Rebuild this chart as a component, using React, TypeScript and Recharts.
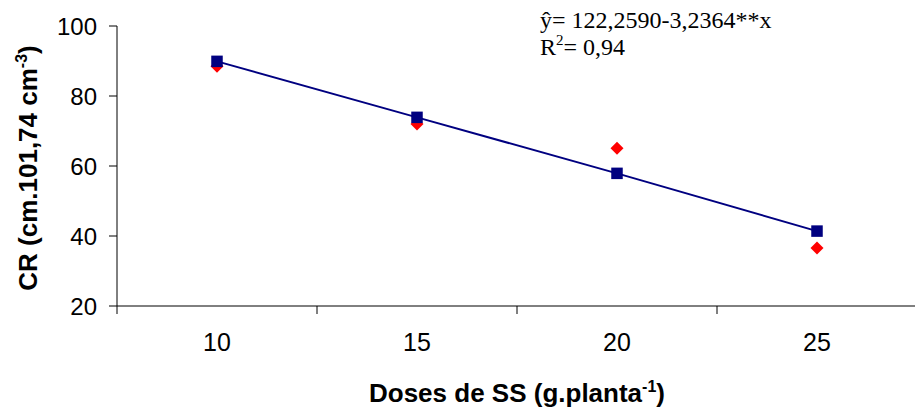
import React from 'react';
import { ComposedChart, Line, XAxis, YAxis, Label } from 'recharts';

const doses = [10, 15, 20, 25];
const observed = [88.5, 72, 65.1, 36.6];
const fitted = [89.9, 73.9, 57.9, 41.4];
const yTicks = [20, 40, 60, 80, 100];
const equationLine1 = 'ŷ= 122,2590-3,2364**x';
const equationR2 = '= 0,94';

const data = doses.map((d, i) => ({ dose: d, observed: observed[i], fitted: fitted[i] }));
const step = doses[1] - doses[0];
const boundaries = [...doses.map((d) => d - step / 2), doses[doses.length - 1] + step / 2];
const xTicks = [...boundaries, ...doses].sort((a, b) => a - b);

const SANS = '"Liberation Sans", Arial, sans-serif';
const SERIF = '"Liberation Serif", "Times New Roman", serif';
const NAVY = '#000080';

const XTick = (props: any) => {
  const { x, y, payload } = props;
  const v = payload.value;
  if (boundaries.includes(v)) {
    return <line x1={x} x2={x} y1={y} y2={y + 8} stroke="#000" strokeWidth={1} />;
  }
  return (
    <text x={x} y={y + 45} textAnchor="middle" fontFamily={SANS} fontSize={25} fill="#000">
      {v}
    </text>
  );
};

const Diamond = (props: any) => {
  const { cx, cy } = props;
  if (cx == null || cy == null) return null;
  const r = 6.5;
  return (
    <path
      key={`d-${cx}`}
      d={`M${cx},${cy - r} L${cx + r},${cy} L${cx},${cy + r} L${cx - r},${cy} Z`}
      fill="#FF0000"
    />
  );
};

const Square = (props: any) => {
  const { cx, cy } = props;
  if (cx == null || cy == null) return null;
  const h = 5.75;
  return <rect key={`s-${cx}`} x={cx - h} y={cy - h} width={h * 2} height={h * 2} fill={NAVY} />;
};

const YTitle = (props: any) => {
  const vb = props.viewBox || {};
  const cx = (vb.x || 0) + 37;
  const cy = (vb.y || 0) + (vb.height || 0) / 2 + 2;
  return (
    <text
      x={cx}
      y={cy}
      transform={`rotate(-90, ${cx}, ${cy})`}
      textAnchor="middle"
      fontFamily={SANS}
      fontWeight="bold"
      fontSize={26}
      fill="#000"
    >
      CR (cm.101,74 cm
      <tspan fontSize={16} dy={-10}>-3</tspan>
      <tspan dy={10}>)</tspan>
    </text>
  );
};

const XTitle = (props: any) => {
  const vb = props.viewBox || {};
  const cx = (vb.x || 0) + (vb.width || 0) / 2;
  const cy = (vb.y || 0) + 96;
  return (
    <text x={cx} y={cy} textAnchor="middle" fontFamily={SANS} fontWeight="bold" fontSize={26} fill="#000">
      Doses de SS (g.planta
      <tspan fontSize={16} dy={-10}>-1</tspan>
      <tspan dy={10}>)</tspan>
    </text>
  );
};

export default function App() {
  return (
    <div style={{ position: 'absolute', left: 0, top: 0, width: 915, height: 410, overflow: 'hidden', background: '#fff' }}>
      <ComposedChart
        width={917}
        height={410}
        data={data}
        margin={{ top: 26, right: 0, bottom: 0, left: 0 }}
      >
        <XAxis
          dataKey="dose"
          type="number"
          domain={[boundaries[0], boundaries[boundaries.length - 1]]}
          ticks={xTicks}
          interval={0}
          tickLine={false}
          tickSize={0}
          tickMargin={0}
          tick={<XTick />}
          axisLine={{ stroke: '#000', strokeWidth: 1 }}
          height={104}
          allowDataOverflow
        >
          <Label content={<XTitle />} />
        </XAxis>
        <YAxis
          type="number"
          domain={[20, 100]}
          ticks={yTicks}
          interval={0}
          width={117}
          tickSize={8}
          tickMargin={12}
          tickLine={{ stroke: '#000', strokeWidth: 1 }}
          axisLine={{ stroke: '#000', strokeWidth: 1 }}
          tick={{ fontFamily: SANS, fontSize: 24, fill: '#000' }}
          allowDataOverflow
        >
          <Label content={<YTitle />} />
        </YAxis>
        <Line
          dataKey="observed"
          stroke="none"
          dot={<Diamond />}
          activeDot={false}
          isAnimationActive={false}
          legendType="none"
        />
        <Line
          dataKey="fitted"
          stroke={NAVY}
          strokeWidth={2}
          dot={<Square />}
          activeDot={false}
          isAnimationActive={false}
          type="linear"
        />
      </ComposedChart>
      <svg width={915} height={410} style={{ position: 'absolute', left: 0, top: 0, pointerEvents: 'none' }}>
        <text x={540} y={28} fontFamily={SERIF} fontSize={24} fill="#000">
          {equationLine1}
        </text>
        <text x={540} y={55} fontFamily={SERIF} fontSize={24} fill="#000">
          R<tspan fontSize={15} dy={-10}>2</tspan>
          <tspan dy={10}>{equationR2}</tspan>
        </text>
      </svg>
    </div>
  );
}
